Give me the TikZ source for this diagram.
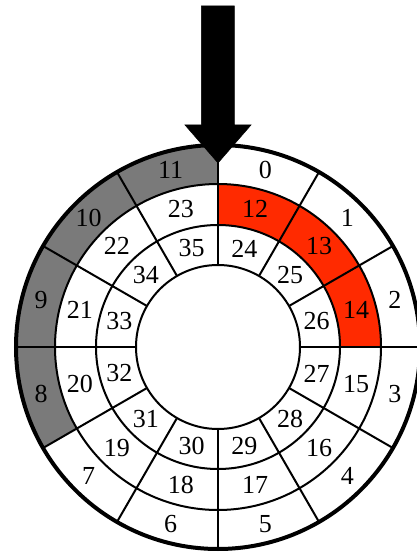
\documentclass[tikz,border=0pt]{standalone}
\usepackage{fontspec}
\setmainfont{Liberation Serif}
\usepackage{tikz}
\usetikzlibrary{calc}
\definecolor{sectorgray}{RGB}{122,122,122}
\definecolor{sectorred}{RGB}{255,42,0}
\tikzset{
  ring line/.style={
    draw=black,
    line width=2pt
  },
  rim line/.style={
    draw=black,
    line width=4pt
  },
  slot label/.style={
    font=\fontsize{26}{30}\selectfont,
    inner sep=0pt
  },
  pointer/.style={
    fill=black,
    draw=black,
    line width=0.5pt,
    line join=miter
  }
}

\begin{document}
\begin{tikzpicture}[x=1pt,y=1pt]
  \useasboundingbox (-218,-208) rectangle (199,347);

  % Shaded sectors
  \fill[sectorgray] (90:163pt) -- (90:202pt)
    arc[start angle=90, end angle=210, radius=202pt] -- (210:163pt)
    arc[start angle=210, end angle=90, radius=163pt] -- cycle;
  \fill[sectorred] (0:122pt) -- (0:163pt)
    arc[start angle=0, end angle=90, radius=163pt] -- (90:122pt)
    arc[start angle=90, end angle=0, radius=122pt] -- cycle;

  % Spokes
  \foreach \a in {0,30,...,330}
    \draw[ring line] (\a:82pt) -- (\a:202pt);

  % Rings
  \draw[ring line] (0,0) circle[radius=82pt];
  \draw[ring line] (0,0) circle[radius=122pt];
  \draw[ring line] (0,0) circle[radius=163pt];
  \draw[rim line] (0,0) circle[radius=202pt];

  % Slot numbers
  \foreach \i in {0,...,11} {
    \pgfmathsetmacro{\ang}{75-30*\i}
    \pgfmathtruncatemacro{\mid}{\i+12}
    \pgfmathtruncatemacro{\inn}{\i+24}
    \node[slot label] (outer\i) at (\ang:183pt) {\i};
    \node[slot label] (middle\i) at (\ang:143pt) {\mid};
    \node[slot label] (inner\i) at (\ang:102pt) {\inn};
  }

  % Pointer
  \fill[pointer] (-16.5,341) -- (16.5,341) -- (16.5,222) -- (33,222)
    -- (0,184) -- (-33,222) -- (-16.5,222) -- cycle;
\end{tikzpicture}
\end{document}
